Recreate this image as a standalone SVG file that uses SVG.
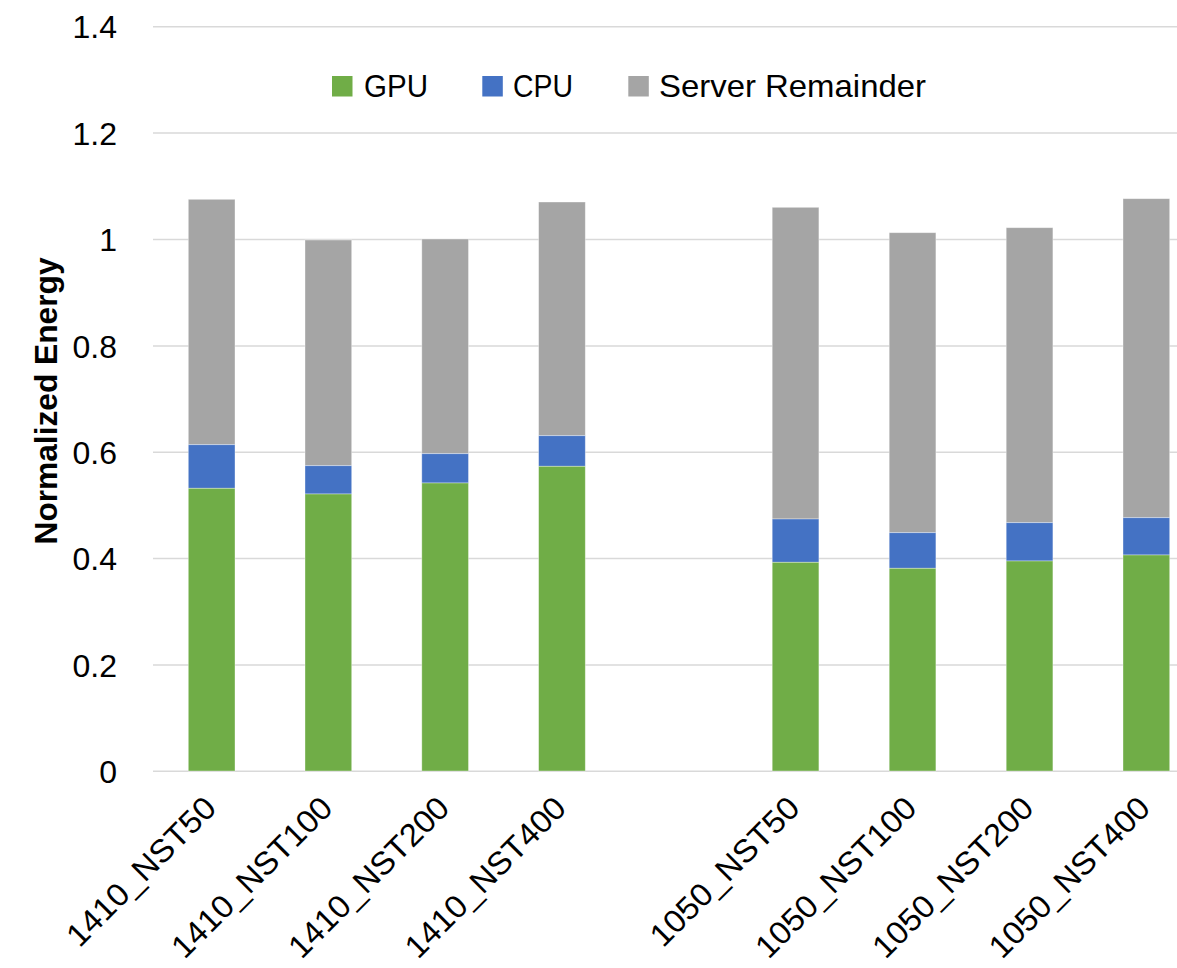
<svg xmlns="http://www.w3.org/2000/svg" width="1177" height="968" viewBox="0 0 1177 968">
  <style>
    .grid { stroke: #D9D9D9; stroke-width: 1.5; fill: none; }
    .tick { font-family: "Liberation Sans", Arial, sans-serif; font-size: 32px; fill: #000; text-anchor: end; }
    .cat { font-family: "Liberation Sans", Arial, sans-serif; font-size: 32px; fill: #000; text-anchor: end; }
    .leg { font-family: "Liberation Sans", Arial, sans-serif; font-size: 32px; fill: #000; }
    .title { font-family: "Liberation Sans", Arial, sans-serif; font-size: 32px; font-weight: bold; fill: #000; text-anchor: middle; }
    .gpu { fill: #70AD47; }
    .cpu { fill: #4472C4; }
    .rem { fill: #A5A5A5; }
    .seg { stroke: #ffffff; stroke-opacity: 0.45; stroke-width: 0.8; }
  </style>
  <rect width="1177" height="968" fill="#ffffff"/>

  <!-- horizontal gridlines, 0 to 1.4 -->
  <g id="gridlines">
    <line class="grid" x1="153" y1="26.7" x2="1177" y2="26.7"/>
    <line class="grid" x1="153" y1="133" x2="1177" y2="133"/>
    <line class="grid" x1="153" y1="239.5" x2="1177" y2="239.5"/>
    <line class="grid" x1="153" y1="346" x2="1177" y2="346"/>
    <line class="grid" x1="153" y1="452.3" x2="1177" y2="452.3"/>
    <line class="grid" x1="153" y1="558.6" x2="1177" y2="558.6"/>
    <line class="grid" x1="153" y1="665" x2="1177" y2="665"/>
    <line class="grid" x1="153" y1="771.3" x2="1177" y2="771.3"/>
  </g>

  <!-- value axis labels -->
  <g id="y-axis">
    <text class="tick" x="117" y="38">1.4</text>
    <text class="tick" x="117" y="144.5">1.2</text>
    <text class="tick" x="117" y="251">1</text>
    <text class="tick" x="117" y="357.5">0.8</text>
    <text class="tick" x="117" y="464">0.6</text>
    <text class="tick" x="117" y="570">0.4</text>
    <text class="tick" x="117" y="676.5">0.2</text>
    <text class="tick" x="117" y="783">0</text>
    <text class="title" transform="translate(57,401) rotate(-90)" textLength="287" lengthAdjust="spacingAndGlyphs">Normalized Energy</text>
  </g>

  <!-- legend -->
  <g id="legend">
    <rect class="gpu" x="332" y="76" width="20.5" height="20.5"/>
    <text class="leg" x="364" y="97" textLength="64" lengthAdjust="spacingAndGlyphs">GPU</text>
    <rect class="cpu" x="482.3" y="76" width="20.5" height="20.5"/>
    <text class="leg" x="513" y="97" textLength="60" lengthAdjust="spacingAndGlyphs">CPU</text>
    <rect class="rem" x="628.3" y="76" width="20.5" height="20.5"/>
    <text class="leg" x="659" y="97" textLength="267" lengthAdjust="spacingAndGlyphs">Server Remainder</text>
  </g>

  <!-- stacked bars: GPU / CPU / server remainder -->
  <g id="bar-1410-NST50">
    <rect class="rem seg" x="188.3" y="199.3" width="46.7" height="245.4"/>
    <rect class="cpu seg" x="188.3" y="444.7" width="46.7" height="43.6"/>
    <rect class="gpu seg" x="188.3" y="488.3" width="46.7" height="282.7"/>
  </g>
  <g id="bar-1410-NST100">
    <rect class="rem seg" x="305" y="240" width="46.7" height="225.7"/>
    <rect class="cpu seg" x="305" y="465.7" width="46.7" height="28.3"/>
    <rect class="gpu seg" x="305" y="494" width="46.7" height="277"/>
  </g>
  <g id="bar-1410-NST200">
    <rect class="rem seg" x="421.8" y="239" width="46.7" height="214.7"/>
    <rect class="cpu seg" x="421.8" y="453.7" width="46.7" height="29.3"/>
    <rect class="gpu seg" x="421.8" y="483" width="46.7" height="288"/>
  </g>
  <g id="bar-1410-NST400">
    <rect class="rem seg" x="538.6" y="202" width="46.7" height="233.7"/>
    <rect class="cpu seg" x="538.6" y="435.7" width="46.7" height="30.6"/>
    <rect class="gpu seg" x="538.6" y="466.3" width="46.7" height="304.7"/>
  </g>
  <g id="bar-1050-NST50">
    <rect class="rem seg" x="772.2" y="207.3" width="46.7" height="311.7"/>
    <rect class="cpu seg" x="772.2" y="519" width="46.7" height="43.3"/>
    <rect class="gpu seg" x="772.2" y="562.3" width="46.7" height="208.7"/>
  </g>
  <g id="bar-1050-NST100">
    <rect class="rem seg" x="889.2" y="232.7" width="46.7" height="300"/>
    <rect class="cpu seg" x="889.2" y="532.7" width="46.7" height="35.6"/>
    <rect class="gpu seg" x="889.2" y="568.3" width="46.7" height="202.7"/>
  </g>
  <g id="bar-1050-NST200">
    <rect class="rem seg" x="1006.2" y="227.7" width="46.7" height="295"/>
    <rect class="cpu seg" x="1006.2" y="522.7" width="46.7" height="38.3"/>
    <rect class="gpu seg" x="1006.2" y="561" width="46.7" height="210"/>
  </g>
  <g id="bar-1050-NST400">
    <rect class="rem seg" x="1123" y="198.7" width="46.7" height="319"/>
    <rect class="cpu seg" x="1123" y="517.7" width="46.7" height="37.3"/>
    <rect class="gpu seg" x="1123" y="555" width="46.7" height="216"/>
  </g>

  <!-- category labels, slanted -->
  <g id="x-axis">
    <text class="cat" transform="translate(218,810) rotate(-45)" textLength="196" lengthAdjust="spacingAndGlyphs">1410_NST50</text>
    <text class="cat" transform="translate(334.5,810) rotate(-45)" textLength="212" lengthAdjust="spacingAndGlyphs">1410_NST100</text>
    <text class="cat" transform="translate(451.3,810) rotate(-45)" textLength="212" lengthAdjust="spacingAndGlyphs">1410_NST200</text>
    <text class="cat" transform="translate(568,810) rotate(-45)" textLength="212" lengthAdjust="spacingAndGlyphs">1410_NST400</text>
    <text class="cat" transform="translate(801.5,810) rotate(-45)" textLength="196" lengthAdjust="spacingAndGlyphs">1050_NST50</text>
    <text class="cat" transform="translate(918.5,810) rotate(-45)" textLength="212" lengthAdjust="spacingAndGlyphs">1050_NST100</text>
    <text class="cat" transform="translate(1035.5,810) rotate(-45)" textLength="212" lengthAdjust="spacingAndGlyphs">1050_NST200</text>
    <text class="cat" transform="translate(1152,810) rotate(-45)" textLength="212" lengthAdjust="spacingAndGlyphs">1050_NST400</text>
  </g>
</svg>
